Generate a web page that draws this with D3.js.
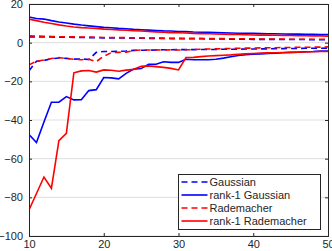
<!DOCTYPE html>
<html lang="en">
<head>
<meta charset="UTF-8">
<title>chart</title>
<script src="https://cdnjs.cloudflare.com/ajax/libs/d3/7.8.5/d3.min.js"></script>
<style>
  body { margin: 0; background: #fff; }
  svg text { font-family: "Liberation Sans", Arial, Helvetica, sans-serif; font-size: 11px; fill: #262626; }
</style>
</head>
<body>
<div id="chart"></div>
<script>
// x values: n = 10..50
var nValues = d3.range(10, 51);

// Gaussian (dashed blue), upper and lower curves
var gaussUpper = [3.0, 3.0, 2.9, 2.9, 2.8, 2.8, 2.7, 2.7, 2.6, 2.6, 2.5, 2.5, 2.4, 2.4, 2.3, 2.3, 2.2, 2.2, 2.2, 2.1, 2.1,
  2.0, 2.0, 2.0, 1.9, 1.9, 1.9, 1.8, 1.8, 1.8, 1.7, 1.7, 1.7, 1.7, 1.6, 1.6, 1.6, 1.6, 1.5, 1.5, 1.5];
var gaussLower = [-14.5, -9.6, -9.2, -8.3, -7.9, -8.1, -8.5, -8.4, -8.7, -5.0, -4.6, -4.6, -4.5, -4.3, -4.0, -3.9, -3.9, -3.8, -3.7, -3.7, -3.6,
  -3.6, -3.6, -3.5, -3.5, -3.5, -3.4, -3.4, -3.4, -3.3, -3.3, -3.2, -3.2, -3.1, -3.1, -3.0, -3.0, -2.9, -2.9, -2.9, -2.8];

// rank-1 Gaussian (solid blue)
var rank1GaussUpper = [13.3, 12.5, 12.2, 11.4, 10.7, 10.2, 9.6, 9.1, 8.7, 8.3, 7.9, 7.7, 7.4, 7.2, 6.9, 6.7, 6.5, 6.3, 6.1, 6.0, 5.8,
  5.7, 5.5, 5.4, 5.3, 5.2, 5.1, 5.0, 4.9, 4.9, 4.8, 4.7, 4.6, 4.6, 4.5, 4.4, 4.4, 4.3, 4.3, 4.2, 4.2];
var rank1GaussLower = [-47.5, -51.6, -41.0, -30.8, -30.8, -27.9, -29.6, -29.5, -24.8, -24.3, -18.0, -18.2, -18.7, -15.9, -13.7, -13.4, -11.2, -11.2, -9.9, -10.2, -10.2,
  -8.6, -8.8, -8.8, -8.8, -8.6, -8.0, -7.3, -6.6, -6.2, -6.0, -5.8, -5.6, -5.4, -5.2, -5.0, -4.9, -4.7, -4.6, -4.4, -4.3];

// Rademacher (dashed red)
var radUpper = [3.5, 3.4, 3.3, 3.2, 3.1, 3.0, 3.0, 2.9, 2.9, 2.8, 2.7, 2.7, 2.6, 2.6, 2.5, 2.5, 2.4, 2.4, 2.3, 2.3, 2.3,
  2.2, 2.2, 2.2, 2.1, 2.1, 2.1, 2.0, 2.0, 2.0, 2.0, 1.9, 1.9, 1.9, 1.9, 1.8, 1.8, 1.8, 1.8, 1.8, 1.8];
var radLower = [-11.5, -9.6, -9.0, -8.2, -7.7, -8.3, -8.6, -8.8, -8.6, -9.8, -7.0, -5.2, -5.0, -4.9, -4.1, -3.8, -3.8, -3.7, -3.8, -3.7, -3.8,
  -3.7, -3.6, -3.4, -3.3, -3.2, -3.1, -3.0, -2.9, -2.8, -2.8, -2.7, -2.6, -2.6, -2.5, -2.5, -2.4, -2.4, -2.3, -2.3, -2.2];

// rank-1 Rademacher (solid red)
var rank1RadUpper = [12.2, 11.4, 10.6, 9.9, 9.2, 8.6, 8.1, 7.8, 7.6, 7.3, 7.0, 6.8, 6.6, 6.4, 6.2, 6.0, 5.8, 5.6, 5.4, 5.2, 5.1,
  5.0, 4.8, 4.7, 4.6, 4.5, 4.4, 4.3, 4.2, 4.1, 4.0, 3.9, 3.9, 3.8, 3.7, 3.7, 3.6, 3.6, 3.5, 3.5, 3.4];
var rank1RadLower = [-86.5, -78.0, -69.5, -75.3, -50.7, -46.9, -15.6, -14.6, -14.4, -15.2, -14.1, -14.3, -14.8, -14.2, -13.8, -12.2, -12.0, -12.4, -12.8, -13.3, -14.1,
  -7.7, -7.6, -7.2, -6.9, -6.7, -6.5, -6.3, -6.0, -5.8, -5.6, -5.4, -5.3, -5.2, -5.1, -5.0, -4.9, -4.8, -4.7, -4.6, -4.6];

var xTicks = [10, 20, 30, 40, 50];
var yTicks = [-100, -80, -60, -40, -20, 0, 20];
var legendLabels = ["Gaussian", "rank-1 Gaussian", "Rademacher", "rank-1 Rademacher"];

var width = 332, height = 251;
var margin = {top: 4, right: 4, bottom: 15, left: 29};
var plotW = width - margin.left - margin.right;
var plotH = height - margin.top - margin.bottom;

var x = d3.scaleLinear().domain([10, 50]).range([0, plotW]);
var y = d3.scaleLinear().domain([-100, 20]).range([plotH, 0]);

var svg = d3.select("#chart").append("svg")
  .attr("width", width)
  .attr("height", height);

var g = svg.append("g").attr("transform", "translate(" + margin.left + "," + margin.top + ")");

// horizontal grid
g.selectAll(".grid").data(yTicks).enter().append("line")
  .attr("x1", 0).attr("x2", plotW)
  .attr("y1", function(d) { return y(d); })
  .attr("y2", function(d) { return y(d); })
  .attr("stroke", "#dedede")
  .attr("stroke-width", 1);

var series = [
  {vals: gaussUpper, color: "#0000ff", dash: "6,4"},
  {vals: gaussLower, color: "#0000ff", dash: "6,4"},
  {vals: rank1GaussUpper, color: "#0000ff", dash: null},
  {vals: rank1GaussLower, color: "#0000ff", dash: null},
  {vals: radUpper, color: "#ff0000", dash: "6,4"},
  {vals: radLower, color: "#ff0000", dash: "6,4"},
  {vals: rank1RadUpper, color: "#ff0000", dash: null},
  {vals: rank1RadLower, color: "#ff0000", dash: null}
];

var line = d3.line()
  .x(function(d, i) { return x(nValues[i]); })
  .y(function(d) { return y(d); });

var clip = svg.append("clipPath").attr("id", "clip").append("rect")
  .attr("width", plotW).attr("height", plotH);

g.append("g").attr("clip-path", "url(#clip)")
  .selectAll("path").data(series).enter().append("path")
  .attr("d", function(s) { return line(s.vals); })
  .attr("fill", "none")
  .attr("stroke", function(s) { return s.color; })
  .attr("stroke-width", 1.6)
  .attr("stroke-dasharray", function(s) { return s.dash; });

// axes (ticks pointing inward, box all round)
var axisColor = "#262626";
var xAxis = g.append("g").attr("transform", "translate(0," + plotH + ")")
  .call(d3.axisBottom(x).tickValues(xTicks).tickSize(-3).tickPadding(4));
var xTop = g.append("g")
  .call(d3.axisTop(x).tickValues(xTicks).tickSize(-3).tickFormat(""));
var yAxis = g.append("g")
  .call(d3.axisLeft(y).tickValues(yTicks).tickSize(-3).tickPadding(6));
var yRight = g.append("g").attr("transform", "translate(" + plotW + ",0)")
  .call(d3.axisRight(y).tickValues(yTicks).tickSize(-3).tickFormat(""));

[xAxis, xTop, yAxis, yRight].forEach(function(a) {
  a.select(".domain").attr("stroke", axisColor).attr("stroke-width", 1);
  a.selectAll(".tick line").attr("stroke", axisColor);
  a.selectAll(".tick text").attr("fill", axisColor).style("font-size", "11px");
});

// legend
var legend = g.append("g").attr("transform", "translate(" + (178.5 - margin.left) + "," + (174.5 - margin.top) + ")");
legend.append("rect")
  .attr("width", 142).attr("height", 55)
  .attr("fill", "#fff")
  .attr("stroke", axisColor)
  .attr("stroke-width", 1);

var legendItems = [
  {color: "#0000ff", dash: "6,4"},
  {color: "#0000ff", dash: null},
  {color: "#ff0000", dash: "6,4"},
  {color: "#ff0000", dash: null}
];

var li = legend.selectAll(".item").data(legendItems).enter().append("g")
  .attr("transform", function(d, i) { return "translate(0," + (7.5 + i * 13) + ")"; });
li.append("line")
  .attr("x1", 3).attr("x2", 29)
  .attr("stroke", function(d) { return d.color; })
  .attr("stroke-width", 1.6)
  .attr("stroke-dasharray", function(d) { return d.dash; });
li.append("text")
  .attr("x", 31).attr("dy", "0.35em")
  .text(function(d, i) { return legendLabels[i]; });
</script>
</body>
</html>
